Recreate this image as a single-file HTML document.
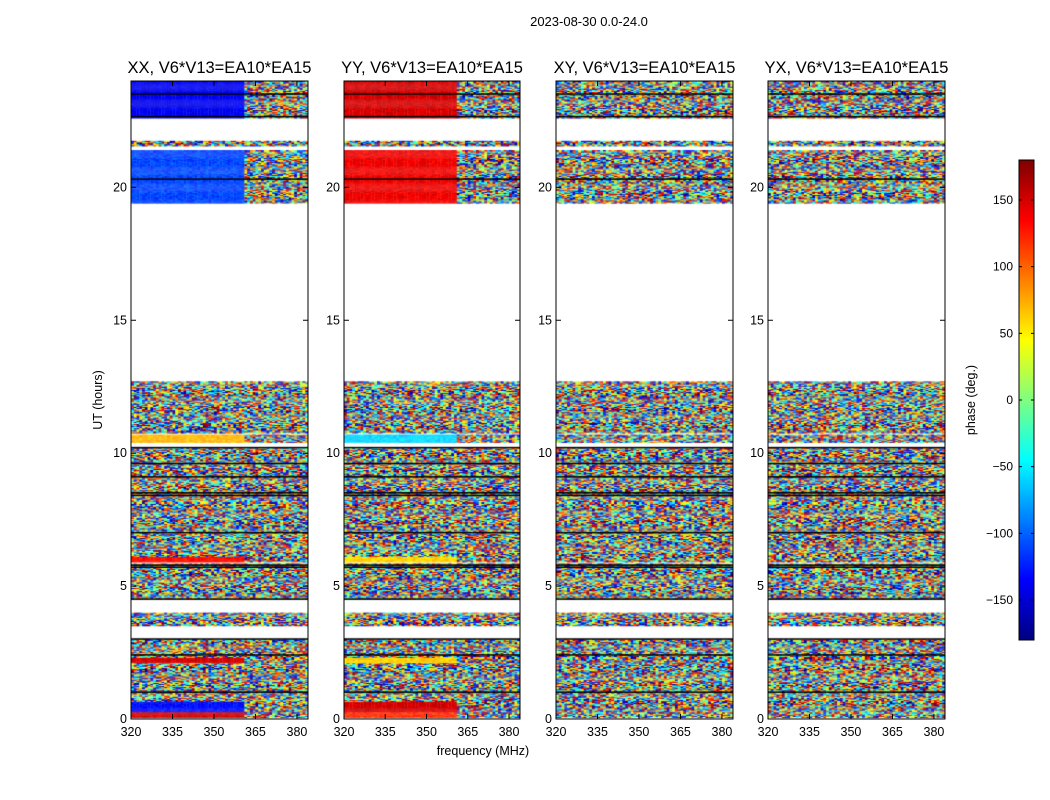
<!DOCTYPE html>
<html><head><meta charset="utf-8"><style>
body{margin:0;background:#fff;width:1050px;height:800px;overflow:hidden;font-family:"Liberation Sans",sans-serif}
#root{position:relative;width:1050px;height:800px}
svg{position:absolute;left:0;top:0}
canvas{position:absolute}
</style></head><body><div id="root">
<canvas id="c0" width="177" height="638" style="left:131px;top:81px;width:177px;height:638px"></canvas>
<canvas id="c1" width="176" height="638" style="left:344px;top:81px;width:176px;height:638px"></canvas>
<canvas id="c2" width="177" height="638" style="left:556px;top:81px;width:177px;height:638px"></canvas>
<canvas id="c3" width="177" height="638" style="left:768px;top:81px;width:177px;height:638px"></canvas>
<canvas id="cb" width="15" height="480" style="left:1019px;top:160px;width:15px;height:480px"></canvas>
<svg id="ov" width="1050" height="800"></svg>
</div>
<script>
// ---- data ----
const panelTitles=["XX, V6*V13=EA10*EA15","YY, V6*V13=EA10*EA15","XY, V6*V13=EA10*EA15","YX, V6*V13=EA10*EA15"];
const yTicks=[0,5,10,15,20];
const xTicks=[320,335,350,365,380];
const cbTicks=[150,100,50,0,-50,-100,-150];
// time segments (hours); kind 'n' = noisy phase, 's' = smooth phase below split frequency
const segStart=[22.6,21.55,19.4,10.75,10.4,6.1,5.9,4.5,3.5,2.3,2.1,0.65,0.25,0.05];
const segEnd  =[24.0,21.75,21.4,12.7,10.7,10.2,6.1,5.85,4.0,3.0,2.3,2.1,0.65,0.25];
const segKind =['s','n','s','n','s','n','s','n','n','n','s','n','s','s'];
const phaseXX =[-140,null,-110,null,70,null,130,null,null,null,150,null,-130,150];
const phaseYY =[150,null,140,null,-60,null,60,null,null,null,60,null,150,120];
const phaseXY =[null,null,null,null,null,null,null,null,null,null,null,null,null,null];
const phaseYX =[null,null,null,null,null,null,null,null,null,null,null,null,null,null];
const blackLines=[23.5,22.65,20.3,10.2,9.6,9.1,8.5,8.4,7.0,5.78,5.7,4.5,3.0,2.4,1.0];
const splitFreq=361;
// ---- axes ----
const fMin=320,fMax=384,hMin=0,hMax=24;
const panelX=[131,344,556,768],panelW=[177,176,177,177],top0=81,H=638;
function yPix(h){return top0+H-(h-hMin)/(hMax-hMin)*H}
function xPix(p,f){return panelX[p]+(f-fMin)/(fMax-fMin)*panelW[p]}
function jet(v){
  const r=Math.min(Math.max(Math.min(4*v-1.5,-4*v+4.5),0),1);
  const g=Math.min(Math.max(Math.min(4*v-0.5,-4*v+3.5),0),1);
  const b=Math.min(Math.max(Math.min(4*v+0.5,-4*v+2.5),0),1);
  return 'rgb('+Math.round(r*255)+','+Math.round(g*255)+','+Math.round(b*255)+')';
}
function ph2v(p){return (p+180)/360}
function hsh(a,b,c){let x=(a*73856093)^(b*19349663)^(c*83492791);x=(x^(x>>>13))*1274126177;x=x^(x>>>16);return ((x>>>0)%1000)/1000}
const phases=[phaseXX,phaseYY,phaseXY,phaseYX];
const dh=0.04,df=1;
for(let p=0;p<4;p++){
  const cv=document.getElementById('c'+p),ctx=cv.getContext('2d');
  for(let s=0;s<segStart.length;s++){
    const ph=phases[p][s];
    for(let h=segStart[s];h<segEnd[s]-1e-9;h+=dh){
      const y0=yPix(Math.min(h+dh,segEnd[s]))-top0,y1=yPix(h)-top0;
      const ri=Math.round(h/dh);
      for(let f=fMin;f<fMax;f+=df){
        let v;
        if(segKind[s]==='s'&&ph!==null&&f<splitFreq){v=ph2v(ph+(hsh(ri,f,p)-0.5)*25);}
        else{v=hsh(ri,f,p+7);}
        ctx.fillStyle=jet(Math.min(Math.max(v,0),1));
        const x0=xPix(p,f)-panelX[p],x1=xPix(p,f+df)-panelX[p];
        ctx.fillRect(x0,y0,x1-x0+0.3,y1-y0+0.3);
      }
    }
  }
  ctx.fillStyle='#000';
  blackLines.forEach(b=>{ctx.fillRect(0,yPix(b)-top0-1,panelW[p],1.5)});
}
(function(){const c=document.getElementById('cb').getContext('2d');for(let i=0;i<480;i++){c.fillStyle=jet(1-i/479);c.fillRect(0,i,15,1)}})();
const svg=document.getElementById('ov'),NS='http://www.w3.org/2000/svg';
function el(t,a,txt){const e=document.createElementNS(NS,t);for(const k in a)e.setAttribute(k,a[k]);if(txt!==undefined)e.textContent=txt;svg.appendChild(e);return e}
for(let p=0;p<4;p++){
  const fr=el('rect',{x:panelX[p],y:top0,width:panelW[p],height:H,fill:'none',stroke:'#000','stroke-width':1});
  
  
  const t=el('text',{x:panelX[p]+panelW[p]/2,y:73,'text-anchor':'middle','font-size':16.5},panelTitles[p]);
  
  
  yTicks.forEach(v=>{const y=yPix(v);
    el('line',{x1:panelX[p],x2:panelX[p]+5,y1:y,y2:y,stroke:'#000'});
    el('line',{x1:panelX[p]+panelW[p]-5,x2:panelX[p]+panelW[p],y1:y,y2:y,stroke:'#000'});
    const l=el('text',{x:panelX[p]-4,y:y+4,'text-anchor':'end','font-size':12.5},String(v));
    
    
  });
  xTicks.forEach(v=>{const x=xPix(p,v);
    el('line',{x1:x,x2:x,y1:top0+H,y2:top0+H-5,stroke:'#000'});
    el('line',{x1:x,x2:x,y1:top0,y2:top0+5,stroke:'#000'});
    const l=el('text',{x:x,y:top0+H+17,'text-anchor':'middle','font-size':12.5},String(v));
    
    
  });
}
const st=el('text',{x:589,y:26,'text-anchor':'middle','font-size':13},'2023-08-30 0.0-24.0');


const yl=el('text',{x:0,y:0,'text-anchor':'middle','font-size':12.5,transform:'translate(102,400) rotate(-90)'},'UT (hours)');


const xl=el('text',{x:483,y:755,'text-anchor':'middle','font-size':12.5},'frequency (MHz)');


const cbf=el('rect',{x:1019,y:160,width:15,height:480,fill:'none',stroke:'#000'});


cbTicks.forEach(v=>{const y=160+(180-v)/360*480;
  el('line',{x1:1019,x2:1022,y1:y,y2:y,stroke:'#000'});
  el('line',{x1:1031,x2:1034,y1:y,y2:y,stroke:'#000'});
  const l=el('text',{x:1013,y:y+4,'text-anchor':'end','font-size':12},v<0?'\u2212'+(-v):String(v));
  
  
});
const cbl=el('text',{x:0,y:0,'text-anchor':'middle','font-size':12.5,transform:'translate(975,400) rotate(-90)'},'phase (deg.)');


</script></body></html>
